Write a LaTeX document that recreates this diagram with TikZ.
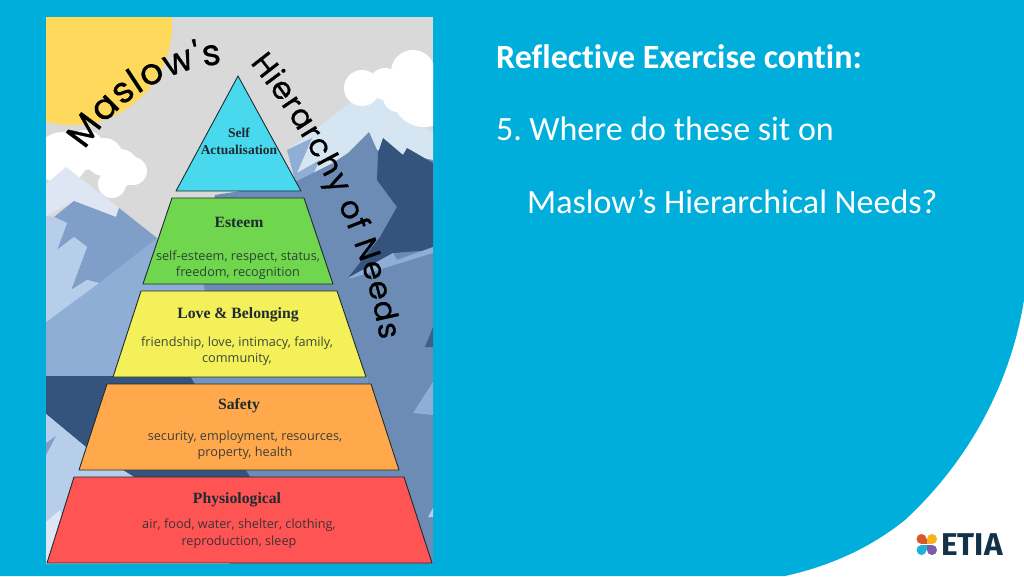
\documentclass[tikz,border=0pt]{standalone}
\usepackage{fontspec}
\usetikzlibrary{decorations.text}
\setmainfont[Ligatures=NoCommon]{Carlito}
\newfontfamily\bodyfont{Open Sans}
\newfontfamily\headfont{Liberation Serif}
\newfontfamily\titlefont[FakeBold=0.7]{Poppins}
\newfontfamily\logofont{Fira Sans}
\definecolor{slideblue}{HTML}{00AEDB}
\definecolor{inkdark}{HTML}{1E2B30}
\definecolor{skygrey}{HTML}{D9D9D9}
\definecolor{sunyellow}{HTML}{FFD95C}
\definecolor{snowpale}{HTML}{D6E5F2}
\definecolor{snowleft}{HTML}{DDE6F2}
\definecolor{mtnlight}{HTML}{B7CEEA}
\definecolor{mtnbase}{HTML}{8FAED6}
\definecolor{mtnshade}{HTML}{7F9EC8}
\definecolor{mtnmid}{HTML}{6C8CB5}
\definecolor{mtndark}{HTML}{34547D}
\tikzset{
	layer/.style={draw=inkdark,line width=0.9pt,line join=round},
	headlabel/.style={font=\headfont\bfseries\fontsize{15.7}{15.7}\selectfont,text=inkdark,inner sep=0pt},
	bodylabel/.style={font=\bodyfont\fontsize{12.7}{16.5}\selectfont,text=inkdark,text opacity=.85,align=center,inner sep=0pt},
	slidetext/.style={font=\fontsize{34}{34}\selectfont,text=white,anchor=base west,inner sep=0pt},
}
\begin{document}
\begin{tikzpicture}[x=1pt,y=-1pt]
		\useasboundingbox (0,0) rectangle (1024,576);
		\fill[white] (0,0) rectangle (1024,576);
		\fill[slideblue] (0,0) -- (1024,0) -- (1024,300) .. controls (1012,375) and (975,455) .. (905,520) .. controls (870,548) and (830,566) .. (785,576) -- (0,576) -- cycle;
		\begin{scope}
			\clip (46,17) rectangle (433,564);
			\fill[skygrey] (46,17) rectangle (433,564);
			\fill[sunyellow] (72,25) circle (100);
			\fill[snowpale] (288,150) -- (370,88) -- (433,133) -- (433,200) -- (295,190) -- cycle;
			\foreach \x/\y/\r in {362/88/18,385/84/16,413/72/22,424/95/32,398/97/15}
			{
				\fill[white] (\x,\y) circle (\r);
			}
			\fill[mtnbase] (287,150) -- (312,138) -- (297,173) -- (320,160) -- (300,200) -- cycle;
			\fill[mtnmid] (215,195) -- (293,183) -- (333,163) -- (348,153) -- (369,132) -- (377,150) -- (433,160) -- (433,564) -- (230,564) -- (200,290) -- cycle;
			\fill[mtndark] (383,138) -- (403,155) -- (407,148) -- (433,163) -- (433,250) -- (393,253) -- (348,278) -- (380,237) -- (397,207) -- (377,180) -- (378,153) -- cycle;
			\fill[mtnbase] (348,278) -- (393,253) -- (397,260) -- (433,247) -- (433,253) -- (352,278) -- cycle;
			\foreach \x/\y/\r in {62/158/26,85/150/20,104/157/19,120/168/19,133/171/14,112/184/14}
			{
				\fill[white] (\x,\y) circle (\r);
			}
			\fill[snowleft] (46,184) -- (66,167) -- (119,208) -- (116,217) -- (74,201) -- (46,216) -- cycle;
			\fill[mtnbase] (46,322) -- (157,238) -- (200,270) -- (225,376) -- (46,376) -- cycle;
			\fill[mtnmid!75!mtnbase] (183,376) rectangle (368,385);
			\fill[mtnshade] (74,201) -- (116,217) -- (119,208) -- (157,238) -- (99,283) -- (87,280) -- (71,290) -- (87,247) -- (74,237) -- (57,250) -- (67,223) -- (54,217) -- cycle;
			\fill[mtnlight] (46,216) -- (54,217) -- (67,223) -- (57,250) -- (74,237) -- (87,247) -- (71,290) -- (87,280) -- (99,283) -- (46,322) -- cycle;
			\fill[mtndark] (46,376) -- (190,376) -- (250,477) -- (134,477) -- (87,448) -- (46,414) -- cycle;
			\fill[mtnlight] (46,414) -- (87,448) -- (134,477) -- (120,564) -- (46,564) -- cycle;
			\fill[mtnshade] (46,455) -- (56,436) -- (46,443) -- cycle;
			\fill[snowleft] (46,522) -- (60,510) -- (64,525) -- (47,562) -- (46,564) -- cycle;
			\fill[mtnbase] (413,413) -- (433,382) -- (433,415) -- cycle;
			\fill[mtndark!80!mtnmid] (425,347) -- (433,327) -- (433,347) -- cycle;
			\fill[mtnlight] (428,517) -- (433,508) -- (433,517) -- cycle;
		\end{scope}
		\fill[layer,fill={rgb,255:red,73;green,217;blue,238}] (238,76) -- (301,191) -- (176,191) -- cycle;
		\fill[layer,fill={rgb,255:red,112;green,214;blue,78}] (172,198) -- (304,198) -- (333,284) -- (143,284) -- cycle;
		\fill[layer,fill={rgb,255:red,244;green,240;blue,90}] (141,291) -- (337,291) -- (366,377) -- (113,377) -- cycle;
		\fill[layer,fill={rgb,255:red,255;green,169;blue,76}] (107,384) -- (371,384) -- (399,470) -- (79,470) -- cycle;
		\fill[layer,fill={rgb,255:red,255;green,84;blue,84}] (74,477) -- (404,477) -- (432,563) -- (47,563) -- cycle;
		\node[headlabel,font=\headfont\bfseries\fontsize{13.5}{16.5}\selectfont,align=center] (selfhead) at (239,141.5) {Self\\Actualisation};
		\node[headlabel] (esteemhead) at (239,222) {Esteem};
		\node[bodylabel] (esteembody) at (238,265) {self-esteem, respect, status,\\freedom, recognition};
		\node[headlabel] (lovehead) at (238,315) {Love \& Belonging};
		\node[bodylabel] (lovebody) at (237,351) {friendship, love, intimacy, family,\\community,};
		\node[headlabel] (safetyhead) at (239,406) {Safety};
		\node[bodylabel] (safetybody) at (245,445) {security, employment, resources,\\property, health};
		\node[headlabel] (physiohead) at (237,500) {Physiological};
		\node[bodylabel] (physiobody) at (239,533.5) {air, food, water, shelter, clothing,\\reproduction, sleep};
		\path[decorate,decoration={text along path,text align={fit to path},text={|\titlefont\fontsize{36}{36}\selectfont|Maslow's}}] (85,150) .. controls (110,110) and (155,70) .. (222,64);
		\path[decorate,decoration={text along path,text align={fit to path},text={|\titlefont\fontsize{31}{31}\selectfont|Hierarchy of Needs}}] (250,63) .. controls (300,125) and (360,220) .. (380,340);
		\node[slidetext,font=\bfseries\fontsize{34}{34}\selectfont] (exercise) at (496,68) {Reflective Exercise contin:};
		\node[slidetext] (question) at (496,140) {5.\hspace{-3pt} Where do these sit on};
		\node[slidetext] (needs) at (527,213) {Maslow’s Hierarchical Needs?};
		\foreach \x/\y/\dx/\dy/\c in {921.5/539/1/1/{rgb,255:red,217;green,87;blue,43},932/539/-1/1/{rgb,255:red,246;green,178;blue,27},921.5/550/1/-1/{rgb,255:red,29;green,179;blue,214},932/550/-1/-1/{rgb,255:red,123;green,91;blue,170}}
		{
			\fill[color=\c] (\x,\y) circle (5);
			\fill[color=\c] (\x,\y) rectangle (\x+5*\dx,\y+5*\dy);
		}
		\node[font=\logofont\bfseries\fontsize{31.5}{31.5}\selectfont,text={rgb,255:red,18;green,50;blue,74},anchor=base west,inner sep=0pt] (logotext) at (941,555) {ETIA};
\end{tikzpicture}
\end{document}
